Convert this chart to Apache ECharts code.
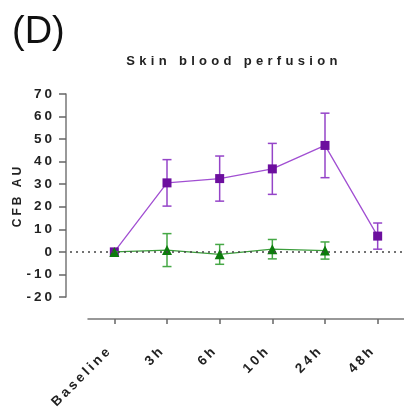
<!DOCTYPE html>
<html><head><meta charset="utf-8">
<script src="https://cdn.jsdelivr.net/npm/echarts@6/dist/echarts.min.js"></script>
<style>html,body{margin:0;padding:0;background:#fff}#c{width:404px;height:410px}</style>
</head><body><div id="c"></div>
<script>
// ---- data ----
const categories = ['Baseline', '3h', '6h', '10h', '24h', '48h'];
const purpleMean = [0, 30.6, 32.5, 36.8, 47.2, 7.0];
const purpleErr  = [0, 10.3, 10.0, 11.3, 14.3, 5.8];
const greenMean  = [0, 0.8, -1.1, 1.2, 0.6, null];
const greenErr   = [0, 7.3, 4.4, 4.3, 3.8, null];
const yMin = -20, yMax = 70, yStep = 10;
const titleText = 'Skin blood perfusion';
const panelText = '(D)';
const yName = 'CFB AU';

// letter spacing for bold texts (canvas letterSpacing)
(function(){
  const p = CanvasRenderingContext2D.prototype;
  const f = p.fillText, m = p.measureText, s = p.strokeText;
  function ls(ctx){
    const font = ctx.font || '';
    let v = '0px';
    if (/\b900\b/.test(font)) v = '4.3px';
    else if (/bold|\b700\b/.test(font)) v = '3px';
    if ('letterSpacing' in ctx && ctx.letterSpacing !== v) ctx.letterSpacing = v;
  }
  p.fillText = function(){ ls(this); return f.apply(this, arguments); };
  p.strokeText = function(){ ls(this); return s.apply(this, arguments); };
  p.measureText = function(){ ls(this); return m.apply(this, arguments); };
})();

const PURPLE = '#6c0f9e', PURPLE_L = '#a14fd2', PURPLE_E = '#9544c8';
const GREEN = '#0c7c0c', GREEN_L = '#3c9e3c', GREEN_E = '#46a846';
const FONT = 'Liberation Sans, Arial, sans-serif';

function errSeries(mean, err, color, z){
  return {
    type: 'custom', z: z, silent: true,
    data: mean.map((v, i) => (v == null ? null : [i, v, err[i]])).filter(d => d),
    renderItem: function(params, api){
      const x = api.value(0), mv = api.value(1), e = api.value(2);
      if (!e) return null;
      const t = api.coord([x, mv + e]), b = api.coord([x, mv - e]);
      const hw = 4.5;
      const st = { stroke: color, lineWidth: 1.5 };
      return { type: 'group', children: [
        { type: 'line', shape: { x1: t[0], y1: t[1], x2: b[0], y2: b[1] }, style: st },
        { type: 'line', shape: { x1: t[0]-hw, y1: t[1], x2: t[0]+hw, y2: t[1] }, style: st },
        { type: 'line', shape: { x1: b[0]-hw, y1: b[1], x2: b[0]+hw, y2: b[1] }, style: st }
      ]};
    }
  };
}

const chart = echarts.init(document.getElementById('c'), null, { renderer: 'canvas' });
chart.setOption({
  animation: false,
  backgroundColor: '#fff',
  graphic: [
    { type: 'text', left: 12, top: 14, style: { text: panelText, font: 'normal 38px ' + FONT, fill: '#111' } },
    { type: 'text', x: 234, y: 61, style: { text: titleText, font: '900 13px ' + FONT, fill: '#222', align: 'center', verticalAlign: 'middle' } }
  ],
  grid: { left: 88, right: 0, top: 94, bottom: 113, containLabel: false, outerBoundsMode: 'none' },
  xAxis: {
    type: 'category', data: categories, offset: 22,
    boundaryGap: true,
    axisLine: { show: true, onZero: false, lineStyle: { color: '#777', width: 1.5 } },
    axisTick: { show: true, alignWithLabel: true, length: 5, lineStyle: { color: '#666', width: 1.5 } },
    axisLabel: { rotate: 45, margin: 25, padding: [0, 6, 0, 0], color: '#222', fontWeight: 'bold', fontSize: 13.5, fontFamily: FONT, interval: 0 },
    splitLine: { show: false }
  },
  yAxis: {
    type: 'value', min: yMin, max: yMax, interval: yStep, offset: 22,
    name: yName, nameLocation: 'middle', nameGap: 41, nameRotate: 90, nameMoveOverlap: false,
    nameTextStyle: { color: '#222', fontWeight: 'bold', fontSize: 12, fontFamily: FONT },
    axisLine: { show: true, onZero: false, lineStyle: { color: '#777', width: 1.5 } },
    axisTick: { show: true, length: 7, lineStyle: { color: '#666', width: 1.5 } },
    axisLabel: { margin: 11, color: '#222', fontWeight: 'bold', fontSize: 13.5, fontFamily: FONT },
    splitLine: { show: false }
  },
  series: [
    errSeries(purpleMean, purpleErr, PURPLE_E, 2),
    {
      type: 'line', data: purpleMean, z: 3,
      symbol: 'rect', symbolSize: 9, showSymbol: true,
      itemStyle: { color: PURPLE },
      lineStyle: { color: PURPLE_L, width: 1.3 }
    },
    errSeries(greenMean, greenErr, GREEN_E, 4),
    {
      type: 'line', data: greenMean, z: 5, connectNulls: false,
      symbol: 'triangle', symbolSize: 10, showSymbol: true,
      itemStyle: { color: GREEN },
      lineStyle: { color: GREEN_L, width: 1.3 },
      markLine: {
        silent: true, symbol: 'none', z: 10, label: { show: false },
        lineStyle: { color: '#444', type: [2, 4], width: 1.6 },
        data: [[{ x: 70, yAxis: 0 }, { x: 404, yAxis: 0 }]]
      }
    }
  ]
});
</script></body></html>
